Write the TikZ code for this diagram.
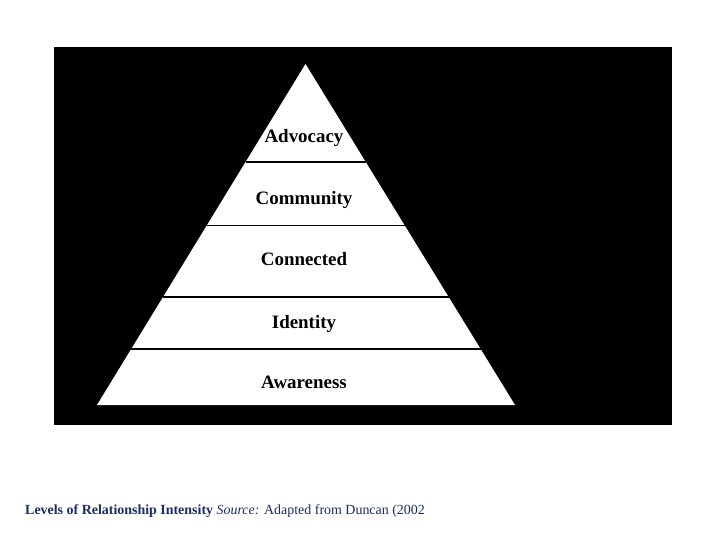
\documentclass[tikz,border=0pt]{standalone}
\usepackage{fontspec}
\usetikzlibrary{calc}
\setmainfont{Liberation Serif}
\definecolor{navy}{RGB}{28,45,95}
\begin{document}
\begin{tikzpicture}[x=1bp,y=-1bp,
  level/.style={anchor=base,font=\fontsize{19}{22}\selectfont\bfseries,text=black,inner sep=0},
  divider/.style={black,line width=1.4bp}]
\useasboundingbox[fill=white] (0,0) rectangle (720,540);
\fill[black] (54,47) rectangle (672,425);
\coordinate (apex) at (305.5,64);
\coordinate (bl) at (97,405);
\coordinate (br) at (515,405);
\fill[white] (apex) -- (br) -- (bl) -- cycle;
% dividers
\foreach \yy/\nm in {162/a,225.5/b,297/c,349/d}{
  \coordinate (l\nm) at ($(apex)!{(\yy-64)/341}!(bl)$);
  \coordinate (r\nm) at ($(apex)!{(\yy-64)/341}!(br)$);
}
\draw[divider] (la) -- (ra);
\draw[divider] (lb) -- (rb);
\draw[divider] (lc) -- (rc);
\draw[divider] (ld) -- (rd);
\node[level] (adv) at (304,143) {Advocacy};
\node[level] (com) at (304,205) {Community};
\node[level] (con) at (304,266) {Connected};
\node[level] (ide) at (304,328) {Identity};
\node[level] (awa) at (304,388) {Awareness};
\node[anchor=base west,inner sep=0,text=navy,font=\fontsize{14}{16}\selectfont] (cap) at (25,514)
  {\textbf{Levels of Relationship Intensity} \textit{Source:} Adapted from Duncan (2002};
\end{tikzpicture}
\end{document}
